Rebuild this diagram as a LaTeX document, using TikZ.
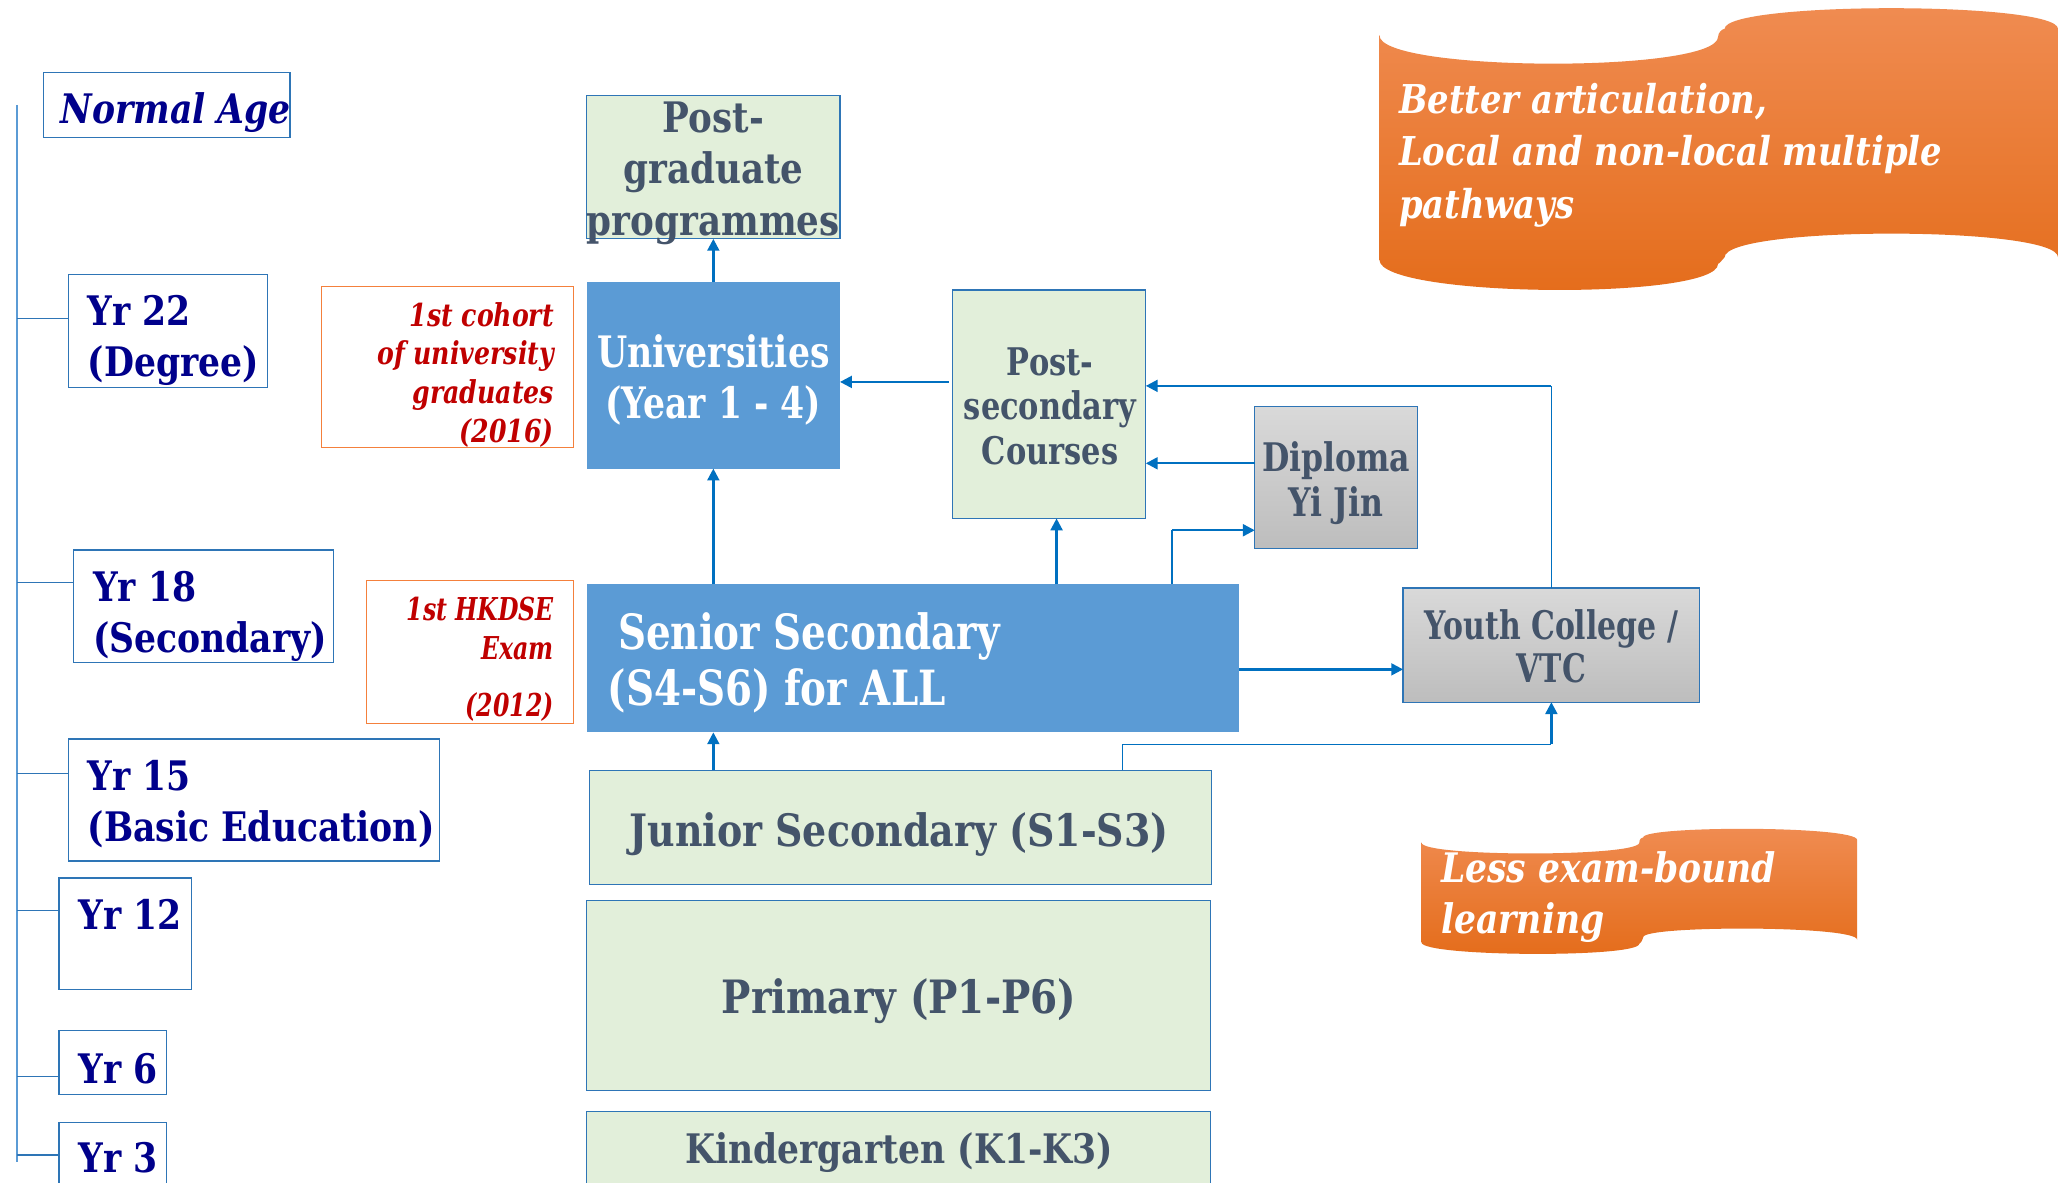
\documentclass[tikz,border=0pt]{standalone}
\usepackage{fontspec}
\setmainfont{DejaVu Serif}
\newfontfamily\wideF[FakeStretch=0.85]{DejaVu Serif}
\newfontfamily\condF[FakeStretch=0.80]{DejaVu Serif}
\newfontfamily\ythF[FakeStretch=0.76]{DejaVu Serif}
\newfontfamily\dseF[FakeStretch=0.75]{DejaVu Serif}
\usetikzlibrary{arrows.meta}
\newcommand\fsz[2]{\fontsize{#1}{#2}\selectfont}
\definecolor{bdr}{RGB}{46,117,182}
\definecolor{arrc}{RGB}{0,112,192}
\definecolor{lgreen}{RGB}{226,239,218}
\definecolor{slate}{RGB}{68,84,106}
\definecolor{navyt}{RGB}{0,0,139}
\definecolor{dred}{RGB}{192,0,0}
\definecolor{obdr}{RGB}{244,128,60}
\definecolor{bfill}{RGB}{91,155,213}
\definecolor{grayT}{RGB}{217,217,217}
\definecolor{grayB}{RGB}{189,189,189}
\definecolor{orT}{RGB}{240,140,82}
\definecolor{orB}{RGB}{228,108,26}
\definecolor{tlc}{RGB}{91,155,213}
\tikzset{
  every node/.style={inner sep=0pt, outer sep=0pt},
  yrbox/.style={draw=bdr, line width=0.9pt, fill=white},
  notebox/.style={draw=obdr, line width=0.9pt, fill=white},
  lgbox/.style={draw=bdr, line width=0.9pt, fill=lgreen},
  bbox/.style={fill=bfill},
  gbox/.style={draw=bdr, line width=0.9pt, top color=grayT, bottom color=grayB},
  yrtxt/.style={text=navyt, font={\wideF\bfseries\fsz{31}{39}}, align=left, anchor=west},
  notetxt/.style={text=dred, font={\condF\bfseries\itshape\fsz{24}{29.5}}, align=right, anchor=east},
  slatetxt/.style={text=slate, align=center},
  whitetxt/.style={text=white},
  bantxt/.style={text=white, align=left, anchor=west},
  arr/.style={draw=arrc, line width=1.8pt, -{Triangle[length=9pt,width=9pt]}},
  conn/.style={draw=arrc, line width=0.9pt},
  tick/.style={draw=bdr, line width=0.8pt},
}
\begin{document}
\begin{tikzpicture}[x=1pt,y=-1pt]
\useasboundingbox (0,0) rectangle (1568,901);
\clip (0,0) rectangle (1568,901);
\fill[white] (0,0) rectangle (1568,901);

% timeline
\coordinate (tltop) at (13,80);
\coordinate (tlbot) at (13,885);
\draw[draw=tlc, line width=1pt] (tltop) -- (tlbot);

% age boxes
\node[yrbox, minimum width=188pt, minimum height=50pt] (na) at (127,80) {};
\node[text=navyt, font={\wideF\bfseries\itshape\fsz{31}{39}}] (nat) at (134,85.5) {Normal Age};
\node[yrbox, minimum width=152pt, minimum height=86pt] (y22) at (128,252) {};
\node[yrtxt] (y22t) at (67,259.5) {Yr 22\\(Degree)};
\node[yrbox, minimum width=198pt, minimum height=86pt] (y18) at (155,462) {};
\node[yrtxt] (y18t) at (71,469.5) {Yr 18\\(Secondary)};
\node[yrbox, minimum width=283pt, minimum height=93pt] (y15) at (193.5,609.5) {};
\node[yrtxt] (y15t) at (67,612.5) {Yr 15\\(Basic Education)};
\node[yrbox, minimum width=101pt, minimum height=85pt] (y12) at (95.5,711.5) {};
\node[yrtxt] (y12t) at (60,697) {Yr 12};
\node[yrbox, minimum width=82pt, minimum height=49pt] (y6) at (86,809.5) {};
\node[yrtxt] (y6t) at (60,814) {Yr 6};
\node[yrbox, minimum width=82pt, minimum height=65pt] (y3) at (86,887.5) {};
\node[yrtxt] (y3t) at (60,882) {Yr 3};

\coordinate (k22) at ([yshift=9pt]y22.west);
\coordinate (k18) at ([yshift=18pt]y18.west);
\coordinate (k15) at ([yshift=20.5pt]y15.west);
\coordinate (k12) at ([yshift=17.5pt]y12.west);
\coordinate (k6) at ([yshift=-10.5pt]y6.west);
\coordinate (k3) at ([yshift=7.5pt]y3.west);
\foreach \k in {k22,k18,k15,k12,k6,k3} {\draw[tick] (\k -| tltop) -- (\k);}

% notes
\node[notebox, minimum width=192pt, minimum height=123pt] (coh) at (341,279.5) {};
\node[notetxt] (coht) at (422,285.5) {1st cohort\\of university\\graduates\\(2016)};
\node[notebox, minimum width=158pt, minimum height=109pt] (dse) at (358,496.5) {};
\node[notetxt, font={\dseF\bfseries\itshape\fsz{24}{29.5}}] (dset) at (422,502.5) {1st HKDSE\\Exam\\[14pt](2012)};

% main boxes
\node[lgbox, minimum width=193pt, minimum height=109pt] (pg) at (543.5,127.5) {};
\node[slatetxt, font={\wideF\bfseries\fsz{32}{39}}] (pgt) at (543.5,132) {Post-\\graduate\\programmes};
\node[bbox, minimum width=193pt, minimum height=142pt] (un) at (543.5,286) {};
\node[whitetxt, align=center, font={\condF\bfseries\fsz{33}{39}}] (unt) at (543.5,289.5) {Universities\\(Year 1 - 4)};
\node[lgbox, minimum width=147pt, minimum height=174pt] (ps) at (799.5,308) {};
\node[slatetxt, font={\condF\bfseries\fsz{29}{34}}] (pst) at (800,309.5) {Post-\\secondary\\Courses};
\node[gbox, minimum width=124pt, minimum height=108pt] (dip) at (1018,364) {};
\node[slatetxt, font={\condF\bfseries\fsz{30}{34}}] (dipt) at (1018,368) {Diploma\\Yi Jin};
\node[bbox, minimum width=497pt, minimum height=113pt] (sen) at (695.5,501.5) {};
\node[whitetxt, align=left, anchor=west, font={\condF\bfseries\fsz{37}{43}}] (sent) at (463,505) {\hspace{8pt}Senior Secondary\\(S4-S6) for ALL};
\node[gbox, minimum width=226pt, minimum height=87pt] (yth) at (1182,491.5) {};
\node[slatetxt, font={\ythF\bfseries\fsz{30}{33}}] (ytht) at (1182,492.5) {Youth College /\\VTC};
\node[lgbox, minimum width=474pt, minimum height=87pt] (jun) at (686,630.5) {};
\node[slatetxt, font={\wideF\bfseries\fsz{34}{40}}] (junt) at (685,636) {Junior Secondary (S1-S3)};
\node[lgbox, minimum width=475pt, minimum height=145pt] (pri) at (684.5,758.5) {};
\node[slatetxt, font={\wideF\bfseries\fsz{35}{40}}] (prit) at (685,763) {Primary (P1-P6)};
\node[lgbox, minimum width=475pt, minimum height=80pt] (kin) at (684.5,887) {};
\node[slatetxt, font={\wideF\bfseries\fsz{31}{40}}] (kint) at (685,878) {Kindergarten (K1-K3)};

% connector anchor points
\coordinate (psA) at ([yshift=17pt,xshift=-3pt]ps.west);
\coordinate (psS) at ([xshift=5.5pt]ps.south);
\coordinate (dipIn) at ([yshift=-40pt]dip.west);
\coordinate (dipOut) at ([yshift=11pt]dip.west);
\coordinate (psIn) at ([yshift=14pt]ps.east);
\coordinate (ythIn) at ([yshift=-18.5pt]yth.west);
\coordinate (dipc) at ([xshift=-51pt]sen.north east);
\coordinate (dipc2) at (dipc |- dipIn);
\coordinate (ythc) at (yth.north |- psIn);
\coordinate (junc) at ([xshift=169pt]jun.north);
\coordinate (junlev) at ([yshift=20pt]jun.north);
\coordinate (junc2) at (yth.south |- junlev);

% connectors
\draw[arr] (un.north) -- (pg.south);
\draw[arr] (un.south |- sen.north) -- (un.south);
\draw[arr] (un.south |- jun.north) -- (un.south |- sen.south);
\draw[arr] (psA) -- (un.east |- psA);
\draw[arr] (psS |- sen.north) -- (psS);
\draw[conn] (dipc) -- (dipc2);
\draw[arr] (dipc2) -- (dipIn);
\draw[arr] (dipOut) -- (ps.east |- dipOut);
\draw[conn] (yth.north) -- (ythc);
\draw[arr] (ythc) -- (psIn);
\draw[arr] (sen.east |- ythIn) -- (ythIn);
\draw[conn] (junc) |- (junc2);
\draw[arr] (junc2) -- (yth.south);

% banners
\shade[top color=orT, bottom color=orB] (1051,27)
  .. controls (1051,55) and (1309,56) .. (1309,28)
  .. controls (1309,25) and (1312,22) .. (1314,22)
  .. controls (1314,1) and (1568,1) .. (1568,22)
  -- (1568,196)
  .. controls (1568,172) and (1314,172) .. (1314,196)
  .. controls (1312,198) and (1310,201) .. (1309,201)
  .. controls (1309,229) and (1051,227) .. (1051,198)
  -- cycle;
\node[bantxt, font={\wideF\bfseries\itshape\fsz{30.3}{40}}] (bt1) at (1066,118) {Better articulation,\\Local and non-local multiple\\pathways};
\shade[top color=orT, bottom color=orB] (1083,642)
  .. controls (1083,653) and (1249,653) .. (1249,642)
  .. controls (1249,639) and (1251,638) .. (1252,638)
  .. controls (1252,629) and (1415,629) .. (1415,640)
  -- (1415,716)
  .. controls (1415,705) and (1252,705) .. (1252,714)
  .. controls (1251,717) and (1250,719) .. (1249,719)
  .. controls (1249,730) and (1083,729) .. (1083,718)
  -- cycle;
\node[bantxt, font={\wideF\bfseries\itshape\fsz{31}{39}}] (bt2) at (1098,683.5) {Less exam-bound\\learning};
\end{tikzpicture}
\end{document}
